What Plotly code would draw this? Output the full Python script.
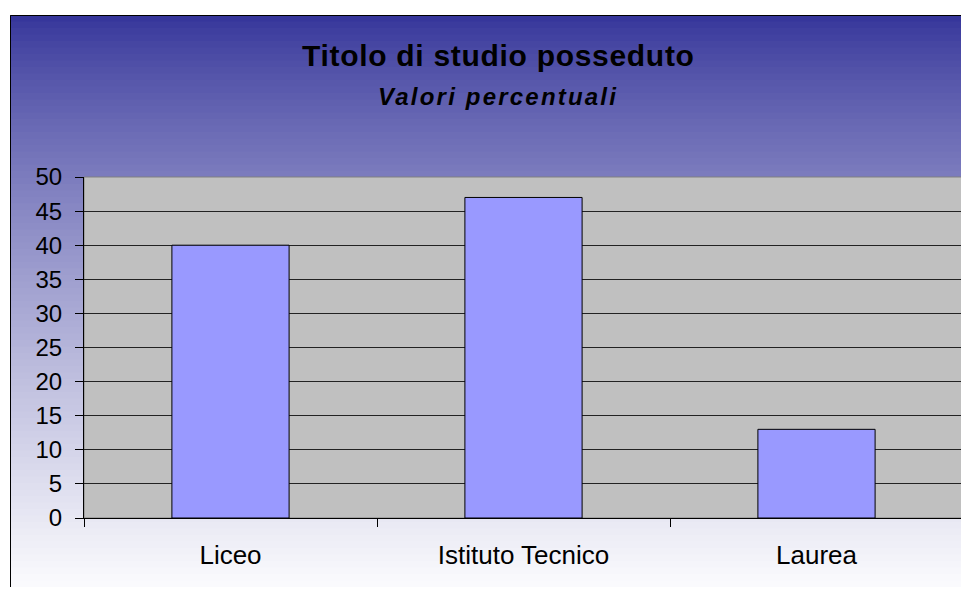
import plotly.graph_objects as go

categories = ["Liceo", "Istituto Tecnico", "Laurea"]
values = [40, 47, 13]
y_ticks = [0, 5, 10, 15, 20, 25, 30, 35, 40, 45, 50]

# the page body adds an 8px margin; figure placed so that screen px match
OFF = 8
W, H = 969 - OFF, 595 - 2 * OFF
L, R, T = 84 - OFF, 969 - 963, 177 - OFF
B = (H + OFF) - 518
PW = W - L - R
PH = H - T - B


def px_x(px):
    """screen px -> paper x"""
    return (px - OFF - L) / PW


def px_y(py):
    """screen px -> paper y"""
    return 1 + (T - (py - OFF)) / PH


fig = go.Figure()
fig.add_trace(go.Bar(
    x=categories, y=values,
    marker=dict(color="#9999FF", line=dict(color="black", width=1)),
    hoverinfo="x+y",
))

shapes = []
top_px, bot_px = 15, 600
n = 90
c0 = (51, 51, 153)
c1 = (255, 255, 255)
for i in range(n):
    ya = top_px + (bot_px - top_px) * i / n
    yb = top_px + (bot_px - top_px) * (i + 1) / n + 0.6
    t = ((i + 0.5) / n) ** 0.8
    col = tuple(round(a + (b - a) * t) for a, b in zip(c0, c1))
    shapes.append(dict(
        type="rect", xref="paper", yref="paper", layer="below",
        x0=px_x(10), x1=px_x(980),
        y0=px_y(yb), y1=px_y(ya),
        fillcolor="rgb(%d,%d,%d)" % col, line=dict(width=0),
    ))
shapes.append(dict(
    type="rect", xref="paper", yref="paper", layer="below",
    x0=0, x1=1, y0=0, y1=1,
    fillcolor="#C0C0C0", line=dict(color="#808080", width=1),
))
shapes.append(dict(type="line", xref="paper", yref="paper", layer="above",
                   x0=px_x(10.5), x1=px_x(980),
                   y0=px_y(15.5), y1=px_y(15.5),
                   line=dict(color="black", width=1)))
shapes.append(dict(type="line", xref="paper", yref="paper", layer="above",
                   x0=px_x(10.5), x1=px_x(10.5),
                   y0=px_y(15.5), y1=px_y(610),
                   line=dict(color="black", width=1)))

annotations = [
    dict(text="<b><span style='letter-spacing:0.7px'>Titolo di studio posseduto</span></b>",
         xref="paper", yref="paper",
         x=px_x(498), y=px_y(56), xanchor="center", yanchor="middle",
         showarrow=False, font=dict(family="Liberation Sans, Arial", size=30, color="black")),
    dict(text="<b><i><span style='letter-spacing:2.2px'>Valori percentuali</span></i></b>",
         xref="paper", yref="paper",
         x=px_x(498), y=px_y(96), xanchor="center", yanchor="middle",
         showarrow=False, font=dict(family="Liberation Sans, Arial", size=24, color="black")),
]

fig.update_layout(
    width=W, height=H,
    margin=dict(l=L, r=R, t=T, b=B, pad=0),
    paper_bgcolor="white",
    plot_bgcolor="rgba(0,0,0,0)",
    bargap=0.6,
    showlegend=False,
    shapes=shapes,
    annotations=annotations,
    font=dict(family="Liberation Sans, Arial", size=24, color="black"),
)
fig.update_xaxes(
    type="category", range=[-0.5, 2.5], tickson="boundaries",
    ticks="outside", ticklen=8, tickcolor="black", tickwidth=1,
    showline=True, linecolor="black", linewidth=1,
    showgrid=False, zeroline=False, ticklabelstandoff=14,
    tickfont=dict(size=26, color="black"),
)
fig.update_yaxes(
    range=[0, 50], tickvals=y_ticks, ticktext=[str(v) for v in y_ticks],
    ticks="outside", ticklen=8, tickcolor="black", tickwidth=1,
    showline=True, linecolor="black", linewidth=1,
    showgrid=True, gridcolor="#222222", gridwidth=1,
    zeroline=False, ticklabelstandoff=8,
    tickfont=dict(size=24, color="black"),
)

fig.write_html("out.html")
